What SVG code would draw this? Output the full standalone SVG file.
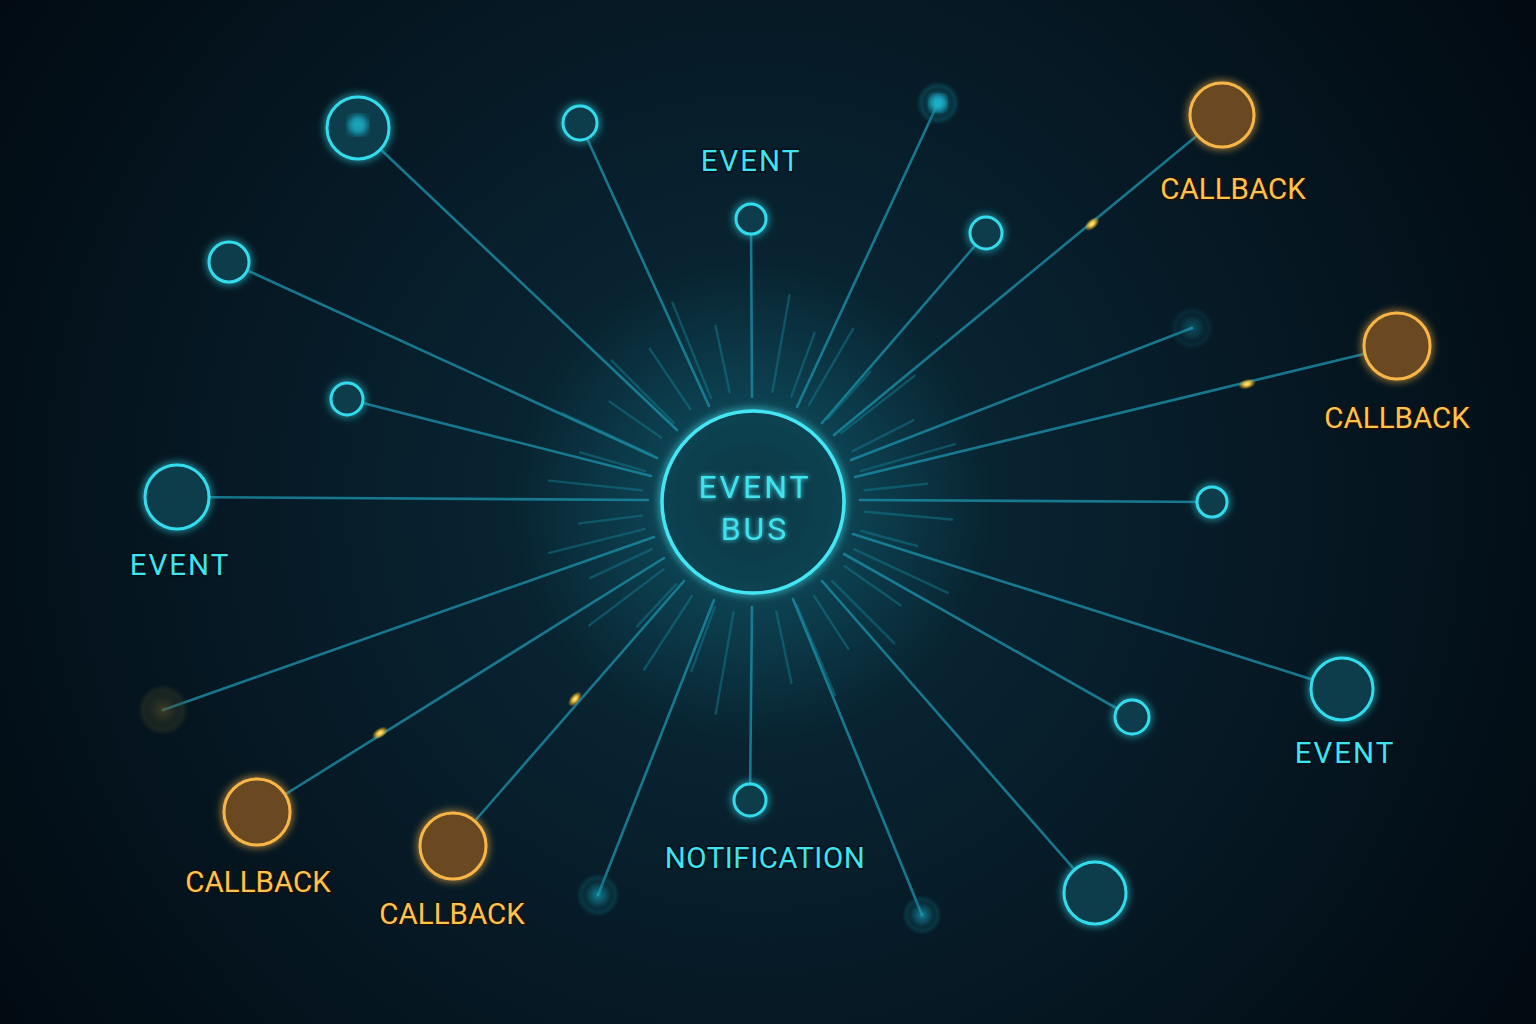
<svg xmlns="http://www.w3.org/2000/svg" width="1536" height="1024" viewBox="0 0 1536 1024">
<defs>
<radialGradient id="bg" cx="753" cy="502" r="900" gradientUnits="userSpaceOnUse">
<stop offset="0" stop-color="#0b2c3a"/>
<stop offset="0.45" stop-color="#071d2a"/>
<stop offset="1" stop-color="#020b12"/>
</radialGradient>
<radialGradient id="busFill" cx="0.5" cy="0.5" r="0.5">
<stop offset="0" stop-color="#0a3644"/>
<stop offset="1" stop-color="#0c4352"/>
</radialGradient>
<radialGradient id="halo" cx="0.5" cy="0.5" r="0.5">
<stop offset="0" stop-color="#1ab8d0" stop-opacity="0.3"/>
<stop offset="1" stop-color="#1ab8d0" stop-opacity="0"/>
</radialGradient>
<radialGradient id="glowC" cx="0.5" cy="0.5" r="0.5">
<stop offset="0" stop-color="#1aa8c0" stop-opacity="0.9"/>
<stop offset="0.4" stop-color="#137e93" stop-opacity="0.55"/>
<stop offset="0.62" stop-color="#0e5f70" stop-opacity="0.3"/>
<stop offset="0.78" stop-color="#0e6f80" stop-opacity="0.4"/>
<stop offset="1" stop-color="#0e5f70" stop-opacity="0"/>
</radialGradient>
<radialGradient id="glowO" cx="0.5" cy="0.5" r="0.5">
<stop offset="0" stop-color="#6b5a2a" stop-opacity="0.8"/>
<stop offset="0.55" stop-color="#4a4a2a" stop-opacity="0.4"/>
<stop offset="0.78" stop-color="#4a4a2a" stop-opacity="0.45"/>
<stop offset="1" stop-color="#3a3a22" stop-opacity="0"/>
</radialGradient>
<radialGradient id="spark" cx="0.5" cy="0.5" r="0.5">
<stop offset="0" stop-color="#fff6b0"/>
<stop offset="0.35" stop-color="#ffc83a" stop-opacity="0.95"/>
<stop offset="1" stop-color="#ffb020" stop-opacity="0"/>
</radialGradient>
<linearGradient id="o6" gradientUnits="userSpaceOnUse" x1="834" y1="435" x2="1222" y2="115"><stop offset="0" stop-color="#17788a"/><stop offset="1" stop-color="#d9a54a"/></linearGradient>
<linearGradient id="o8" gradientUnits="userSpaceOnUse" x1="855" y1="477" x2="1397" y2="346"><stop offset="0" stop-color="#17788a"/><stop offset="1" stop-color="#d9a54a"/></linearGradient>
<linearGradient id="o16" gradientUnits="userSpaceOnUse" x1="684" y1="581" x2="453" y2="846"><stop offset="0" stop-color="#17788a"/><stop offset="1" stop-color="#d9a54a"/></linearGradient>
<linearGradient id="o17" gradientUnits="userSpaceOnUse" x1="664" y1="558" x2="257" y2="812"><stop offset="0" stop-color="#17788a"/><stop offset="1" stop-color="#d9a54a"/></linearGradient>
<linearGradient id="o18" gradientUnits="userSpaceOnUse" x1="654" y1="537" x2="163" y2="710"><stop offset="0" stop-color="#17788a"/><stop offset="1" stop-color="#4f5a40"/></linearGradient>
<filter id="glow" x="-50%" y="-50%" width="200%" height="200%">
<feGaussianBlur in="SourceGraphic" stdDeviation="4" result="b"/>
<feMerge><feMergeNode in="b"/><feMergeNode in="SourceGraphic"/></feMerge>
</filter>
<filter id="tglow" x="-20%" y="-50%" width="140%" height="200%">
<feGaussianBlur in="SourceGraphic" stdDeviation="2.5" result="b"/>
<feMerge><feMergeNode in="b"/><feMergeNode in="SourceGraphic"/></feMerge>
</filter>
<filter id="blur3"><feGaussianBlur stdDeviation="3"/></filter>
</defs>
<style>
.conn{stroke:#1a87a0;stroke-width:2.6;stroke-linecap:round;fill:none;opacity:0.85}
.ray{stroke:#137a90;stroke-width:2.4;stroke-linecap:round;opacity:0.5}
.nc{fill:#0b3d4b;stroke:#33dcec;stroke-width:3}
.no{fill:#6a4a22;stroke:#f8b648;stroke-width:3}
.lbl{font-family:Roboto,"DejaVu Sans",sans-serif;font-size:29.5px;text-anchor:middle;stroke-width:3;paint-order:stroke}
.tc{fill:#3fe4f0;stroke:#021018;letter-spacing:2px}
.to{fill:#ffc24c;stroke:#1a1206;letter-spacing:0px}
.bus{font-family:Roboto,"DejaVu Sans",sans-serif;font-size:32px;text-anchor:middle;fill:#40e2ee;letter-spacing:3px}
</style>
<rect width="1536" height="1024" fill="url(#bg)"/>
<circle cx="753" cy="502" r="240" fill="url(#halo)"/>

<g id="rays" transform="translate(753,502)">
<line class="ray" x1="112" y1="0" x2="200" y2="0" transform="rotate(5)"/>
<line class="ray" x1="112" y1="0" x2="170" y2="0" transform="rotate(15)"/>
<line class="ray" x1="112" y1="0" x2="215" y2="0" transform="rotate(25)"/>
<line class="ray" x1="112" y1="0" x2="180" y2="0" transform="rotate(35)"/>
<line class="ray" x1="112" y1="0" x2="200" y2="0" transform="rotate(45)"/>
<line class="ray" x1="112" y1="0" x2="175" y2="0" transform="rotate(57)"/>
<line class="ray" x1="112" y1="0" x2="210" y2="0" transform="rotate(67)"/>
<line class="ray" x1="112" y1="0" x2="185" y2="0" transform="rotate(78)"/>
<line class="ray" x1="112" y1="0" x2="215" y2="0" transform="rotate(100)"/>
<line class="ray" x1="112" y1="0" x2="180" y2="0" transform="rotate(110)"/>
<line class="ray" x1="112" y1="0" x2="200" y2="0" transform="rotate(123)"/>
<line class="ray" x1="112" y1="0" x2="170" y2="0" transform="rotate(133)"/>
<line class="ray" x1="112" y1="0" x2="205" y2="0" transform="rotate(143)"/>
<line class="ray" x1="112" y1="0" x2="180" y2="0" transform="rotate(155)"/>
<line class="ray" x1="112" y1="0" x2="210" y2="0" transform="rotate(166)"/>
<line class="ray" x1="112" y1="0" x2="175" y2="0" transform="rotate(173)"/>
<line class="ray" x1="112" y1="0" x2="205" y2="0" transform="rotate(186)"/>
<line class="ray" x1="112" y1="0" x2="180" y2="0" transform="rotate(196)"/>
<line class="ray" x1="112" y1="0" x2="210" y2="0" transform="rotate(205)"/>
<line class="ray" x1="112" y1="0" x2="175" y2="0" transform="rotate(215)"/>
<line class="ray" x1="112" y1="0" x2="200" y2="0" transform="rotate(225)"/>
<line class="ray" x1="112" y1="0" x2="185" y2="0" transform="rotate(236)"/>
<line class="ray" x1="112" y1="0" x2="215" y2="0" transform="rotate(248)"/>
<line class="ray" x1="112" y1="0" x2="180" y2="0" transform="rotate(258)"/>
<line class="ray" x1="112" y1="0" x2="210" y2="0" transform="rotate(280)"/>
<line class="ray" x1="112" y1="0" x2="180" y2="0" transform="rotate(290)"/>
<line class="ray" x1="112" y1="0" x2="200" y2="0" transform="rotate(300)"/>
<line class="ray" x1="112" y1="0" x2="175" y2="0" transform="rotate(312)"/>
<line class="ray" x1="112" y1="0" x2="205" y2="0" transform="rotate(322)"/>
<line class="ray" x1="112" y1="0" x2="180" y2="0" transform="rotate(333)"/>
<line class="ray" x1="112" y1="0" x2="210" y2="0" transform="rotate(344)"/>
<line class="ray" x1="112" y1="0" x2="175" y2="0" transform="rotate(354)"/>
</g>

<g id="connectors">
<line class="conn" x1="358" y1="128" x2="677" y2="430"/>
<line class="conn" x1="580" y1="123" x2="709" y2="406"/>
<line class="conn" x1="751" y1="219" x2="752" y2="397"/>
<line class="conn" x1="938" y1="103" x2="797" y2="407"/>
<line class="conn" x1="986" y1="233" x2="822" y2="423"/>
<line class="conn" x1="1222" y1="115" x2="834" y2="435" stroke="url(#o6)"/>
<line class="conn" x1="1192" y1="328" x2="851" y2="460" opacity="0.6"/>
<line class="conn" x1="1397" y1="346" x2="855" y2="477" stroke="url(#o8)"/>
<line class="conn" x1="1212" y1="502" x2="860" y2="500"/>
<line class="conn" x1="1342" y1="689" x2="853" y2="534"/>
<line class="conn" x1="1132" y1="717" x2="844" y2="554"/>
<line class="conn" x1="1095" y1="893" x2="822" y2="581"/>
<line class="conn" x1="922" y1="915" x2="793" y2="599"/>
<line class="conn" x1="750" y1="800" x2="752" y2="607"/>
<line class="conn" x1="598" y1="895" x2="714" y2="600"/>
<line class="conn" x1="453" y1="846" x2="684" y2="581" stroke="url(#o16)"/>
<line class="conn" x1="257" y1="812" x2="664" y2="558" stroke="url(#o17)"/>
<line class="conn" x1="163" y1="710" x2="654" y2="537" stroke="url(#o18)" opacity="0.7"/>
<line class="conn" x1="177" y1="497" x2="648" y2="500"/>
<line class="conn" x1="347" y1="399" x2="651" y2="476"/>
<line class="conn" x1="229" y1="262" x2="657" y2="458"/>
<g id="sparks">
<ellipse cx="1092" cy="224" rx="9" ry="5" fill="url(#spark)" transform="rotate(-40 1092 224)"/>
<ellipse cx="1247" cy="384" rx="9" ry="5" fill="url(#spark)" transform="rotate(-14 1247 384)"/>
<ellipse cx="380" cy="733" rx="9" ry="5" fill="url(#spark)" transform="rotate(-32 380 733)"/>
<ellipse cx="575" cy="699" rx="9" ry="5" fill="url(#spark)" transform="rotate(-50 575 699)"/>
</g>
</g>

<g id="bus" filter="url(#glow)">
<circle cx="753" cy="502" r="91" fill="url(#busFill)" stroke="#44e6f4" stroke-width="3.5"/>
</g>
<g id="bus-label" filter="url(#tglow)">
<text class="bus" x="755" y="498">EVENT</text>
<text class="bus" x="755" y="540">BUS</text>
</g>

<g id="n1" filter="url(#glow)"><circle class="nc" cx="358" cy="128" r="31"/><circle cx="358" cy="125" r="10" fill="#1aa2ba" filter="url(#blur3)"/></g>
<g id="n2" filter="url(#glow)"><circle class="nc" cx="580" cy="123" r="17"/></g>
<g id="n3" filter="url(#glow)"><circle class="nc" cx="751" cy="219" r="15"/></g>
<g id="n4"><circle cx="938" cy="103" r="22" fill="url(#glowC)"/><circle cx="938" cy="103" r="8" fill="#1ab0c8" filter="url(#blur3)"/></g>
<g id="n5" filter="url(#glow)"><circle class="nc" cx="986" cy="233" r="16"/></g>
<g id="n6" filter="url(#glow)"><circle class="no" cx="1222" cy="115" r="32"/></g>
<g id="n7" opacity="0.45"><circle cx="1192" cy="328" r="22" fill="url(#glowC)"/></g>
<g id="n8" filter="url(#glow)"><circle class="no" cx="1397" cy="346" r="33"/></g>
<g id="n9" filter="url(#glow)"><circle class="nc" cx="1212" cy="502" r="15"/></g>
<g id="n10" filter="url(#glow)"><circle class="nc" cx="1342" cy="689" r="31"/></g>
<g id="n11" filter="url(#glow)"><circle class="nc" cx="1132" cy="717" r="17"/></g>
<g id="n12" filter="url(#glow)"><circle class="nc" cx="1095" cy="893" r="31"/></g>
<g id="n13" opacity="0.8"><circle cx="922" cy="915" r="20" fill="url(#glowC)"/></g>
<g id="n14" filter="url(#glow)"><circle class="nc" cx="750" cy="800" r="16"/></g>
<g id="n15" opacity="0.8"><circle cx="598" cy="895" r="22" fill="url(#glowC)"/></g>
<g id="n16" filter="url(#glow)"><circle class="no" cx="453" cy="846" r="33"/></g>
<g id="n17" filter="url(#glow)"><circle class="no" cx="257" cy="812" r="33"/></g>
<g id="n18" opacity="0.7"><circle cx="163" cy="710" r="26" fill="url(#glowO)"/></g>
<g id="n19" filter="url(#glow)"><circle class="nc" cx="177" cy="497" r="32"/></g>
<g id="n20" filter="url(#glow)"><circle class="nc" cx="347" cy="399" r="16"/></g>
<g id="n21" filter="url(#glow)"><circle class="nc" cx="229" cy="262" r="20"/></g>

<g id="labels">
<text class="lbl tc" x="751" y="171">EVENT</text>
<text class="lbl to" x="1233" y="199">CALLBACK</text>
<text class="lbl to" x="1397" y="428">CALLBACK</text>
<text class="lbl tc" x="180" y="575">EVENT</text>
<text class="lbl tc" x="1345" y="763">EVENT</text>
<text class="lbl tc" x="765" y="868" style="letter-spacing:0.5px">NOTIFICATION</text>
<text class="lbl to" x="258" y="892">CALLBACK</text>
<text class="lbl to" x="452" y="924">CALLBACK</text>
</g>
</svg>
